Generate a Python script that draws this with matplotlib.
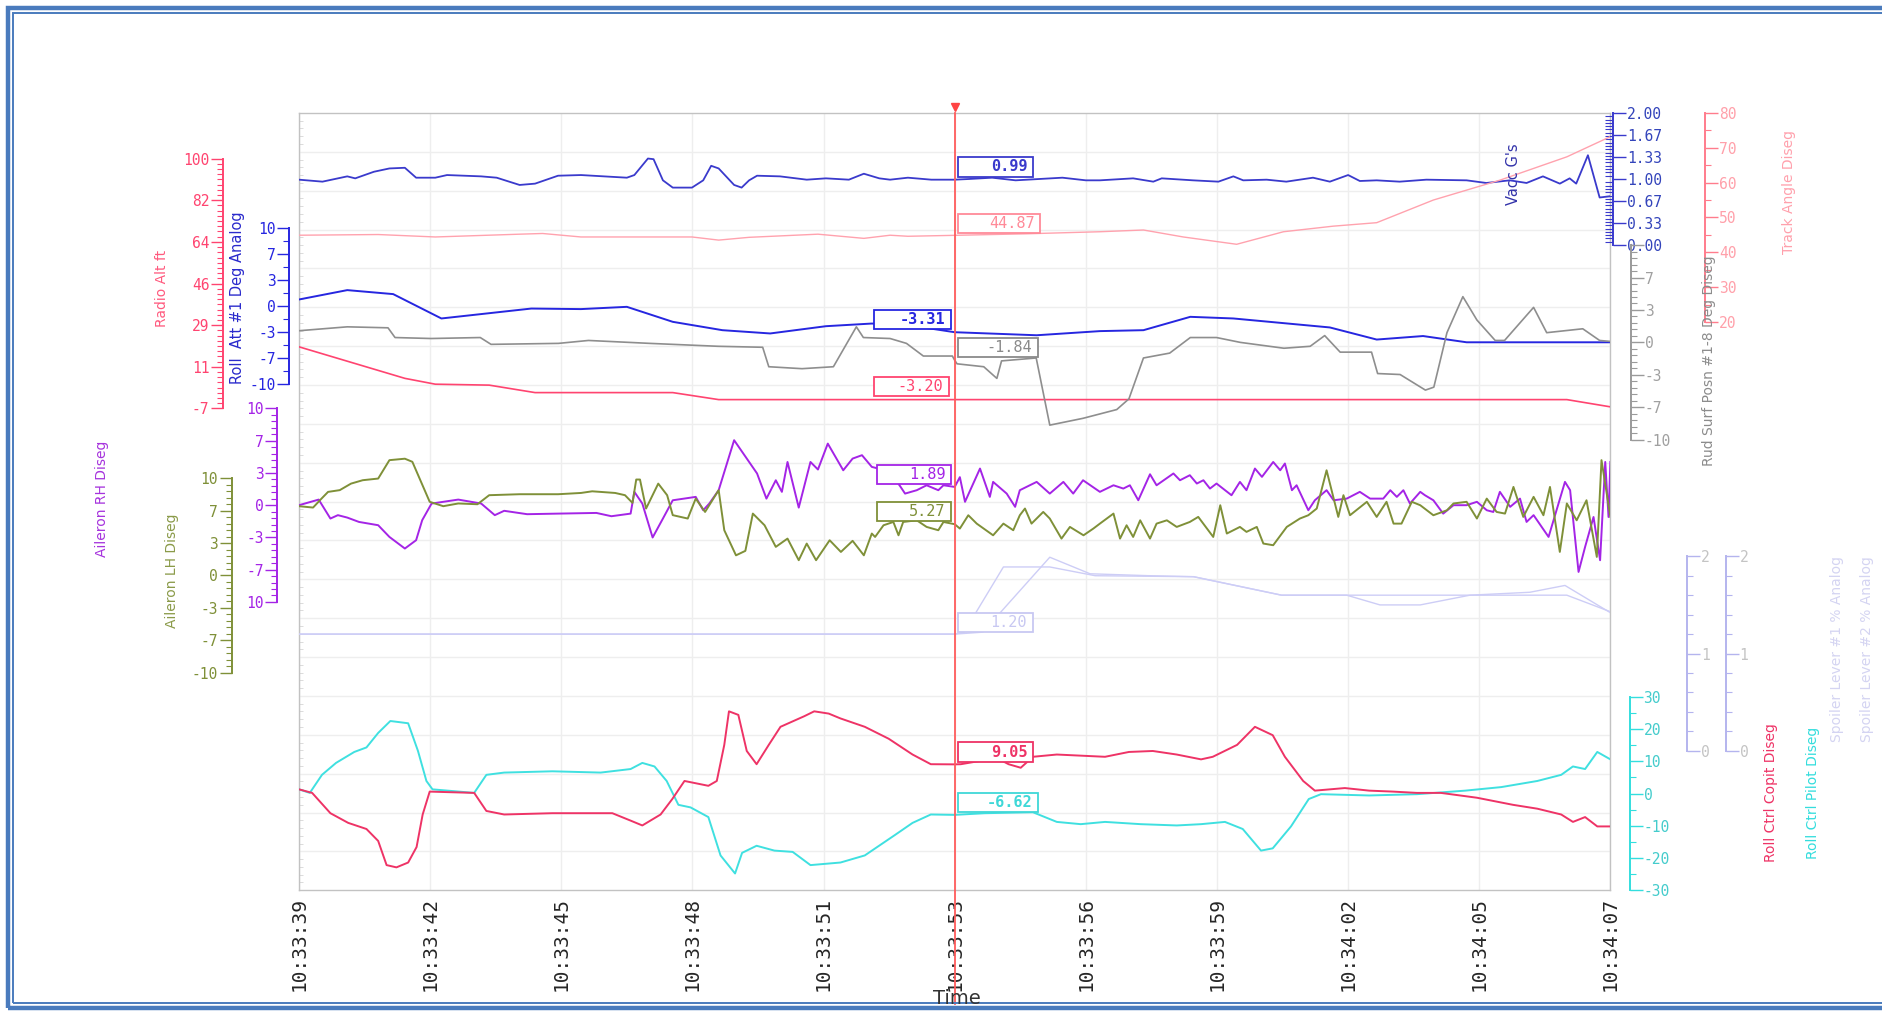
import numpy as np
import matplotlib
matplotlib.use("Agg")
import matplotlib.pyplot as plt
from matplotlib.patches import Rectangle
from matplotlib.ticker import FixedLocator, FixedFormatter

# time axis: seconds after 10:33:39
TIME_LABELS = ["10:33:39", "10:33:42", "10:33:45", "10:33:48", "10:33:51", "10:33:53",
               "10:33:56", "10:33:59", "10:34:02", "10:34:05", "10:34:07"]
SPAN = 28.0
CURSOR_T = 14.0

# (seconds, value) samples per channel
VACC_G = [(0, 0.99), (0.5, 0.96), (1.03, 1.04), (1.2, 1.01), (1.6, 1.11), (1.93, 1.16), (2.26, 1.17),
          (2.5, 1.02), (2.91, 1.02), (3.16, 1.06), (3.89, 1.04), (4.22, 1.02), (4.71, 0.91), (5.04, 0.93),
          (5.53, 1.05), (6.02, 1.06), (7.0, 1.02), (7.16, 1.06), (7.45, 1.31), (7.57, 1.30), (7.77, 0.98),
          (7.98, 0.87), (8.39, 0.87), (8.63, 0.98), (8.8, 1.20), (8.96, 1.16), (9.29, 0.91), (9.45, 0.87),
          (9.61, 0.98), (9.78, 1.05), (10.27, 1.04), (10.84, 0.99), (11.25, 1.01), (11.74, 0.99),
          (12.06, 1.08), (12.39, 1.01), (12.62, 0.99), (13.0, 1.02), (13.5, 0.99), (14.0, 0.99),
          (14.3, 1.0), (14.8, 1.02), (15.3, 0.98), (15.8, 1.0), (16.3, 1.02), (16.8, 0.98), (17.1, 0.98),
          (17.81, 1.01), (18.24, 0.96), (18.42, 1.01), (19.09, 0.98), (19.63, 0.96), (19.95, 1.04),
          (20.16, 0.98), (20.66, 0.99), (21.08, 0.96), (21.65, 1.02), (22.01, 0.96), (22.4, 1.06),
          (22.65, 0.97), (23.01, 0.98), (23.5, 0.96), (24.07, 0.99), (24.93, 0.98), (25.35, 0.94),
          (25.85, 0.98), (26.21, 0.94), (26.56, 1.04), (26.92, 0.93), (27.13, 1.01), (27.27, 0.93),
          (27.52, 1.36), (27.77, 0.72), (28.0, 0.74)]

TRACK_ANGLE = [(0, 44.9), (1.69, 45.1), (2.91, 44.4), (4.71, 45.2), (5.2, 45.4), (6.02, 44.4), (8.39, 44.4),
               (8.96, 43.5), (9.61, 44.3), (11.08, 45.2), (12.06, 44.0), (12.62, 44.9), (13.0, 44.6),
               (14.0, 44.87), (15.5, 45.3), (17.1, 45.9), (18.03, 46.4), (18.88, 44.4), (20.02, 42.3),
               (21.02, 45.9), (22.08, 47.5), (23.01, 48.5), (24.22, 55.0), (25.64, 60.7), (27.07, 67.4),
               (28.0, 73.2)]

ROLL_ATT = [(0, 0.88), (1.03, 2.08), (2.01, 1.57), (3.04, -1.55), (4.96, -0.28), (6.02, -0.35), (7.0, -0.06),
            (7.98, -1.98), (9.04, -3.05), (10.06, -3.47), (11.25, -2.54), (12.23, -2.2), (13.0, -2.4),
            (14.0, -3.31), (15.75, -3.7), (17.1, -3.17), (18.03, -3.05), (19.03, -1.34), (19.95, -1.55),
            (22.01, -2.7), (23.01, -4.25), (24.0, -3.8), (24.93, -4.6), (28.0, -4.6)]

RUD_SURF = [(0, 1.2), (1.03, 1.6), (1.9, 1.5), (2.05, 0.5), (2.82, 0.4), (3.87, 0.5), (4.1, -0.2), (5.54, -0.1),
            (6.18, 0.2), (7.49, -0.1), (8.95, -0.4), (9.9, -0.5), (10.03, -2.5), (10.74, -2.7), (11.41, -2.5),
            (11.9, 1.6), (12.05, 0.5), (12.62, 0.4), (12.97, -0.1), (13.33, -1.4), (13.95, -1.4),
            (14.0, -1.84), (14.05, -2.2), (14.62, -2.5), (14.9, -3.7), (15.0, -1.9), (15.74, -1.6),
            (16.03, -8.5), (16.74, -7.8), (17.46, -6.9), (17.72, -5.8), (18.03, -1.6), (18.59, -1.1),
            (19.03, 0.5), (19.59, 0.5), (20.1, 0.0), (21.03, -0.6), (21.59, -0.4), (21.9, 0.7),
            (22.23, -1.0), (22.9, -1.0), (23.03, -3.2), (23.51, -3.3), (24.05, -4.9), (24.23, -4.6),
            (24.51, 1.0), (24.85, 4.7), (25.15, 2.3), (25.54, 0.2), (25.74, 0.2), (26.36, 3.6),
            (26.64, 1.0), (27.41, 1.4), (27.77, 0.2), (28.0, 0.1)]

RADIO_ALT = [(0, 19.4), (2.26, 5.9), (2.91, 3.4), (4.06, 3.0), (5.04, -0.2), (7.98, -0.2), (8.96, -3.2),
             (27.07, -3.2), (28.0, -6.3)]

AILERON_RH = [(0, 0.0), (0.42, 0.58), (0.67, -1.38), (0.83, -1.03), (1.03, -1.28), (1.28, -1.73), (1.69, -2.07),
              (1.93, -3.28), (2.26, -4.48), (2.5, -3.62), (2.63, -1.55), (2.83, 0.17), (3.4, 0.58),
              (3.89, 0.17), (4.18, -1.03), (4.38, -0.58), (4.87, -0.93), (5.53, -0.87), (6.35, -0.8),
              (6.67, -1.14), (7.08, -0.87), (7.16, 1.38), (7.33, 0.17), (7.55, -3.34), (7.77, -1.38),
              (7.98, 0.51), (8.22, 0.68), (8.47, 0.86), (8.63, -0.52), (8.76, 0.17), (8.96, 1.55),
              (9.29, 6.72), (9.78, 3.28), (9.98, 0.68), (10.18, 2.58), (10.31, 1.38), (10.43, 4.47),
              (10.67, -0.25), (10.92, 4.47), (11.08, 3.69), (11.29, 6.37), (11.62, 3.61), (11.82, 4.82),
              (12.02, 5.17), (12.23, 3.96), (12.6, 3.5), (12.83, 2.0), (12.94, 1.2), (13.19, 1.55),
              (13.4, 2.06), (13.65, 1.55), (13.76, 2.06), (14.0, 1.89), (14.11, 2.9), (14.22, 0.35),
              (14.54, 3.79), (14.75, 0.86), (14.82, 2.41), (15.11, 1.2), (15.29, -0.17), (15.39, 1.55),
              (15.75, 2.41), (16.03, 1.2), (16.32, 2.41), (16.53, 1.2), (16.74, 2.58), (17.1, 1.38),
              (17.39, 2.06), (17.6, 1.72), (17.74, 2.06), (17.92, 0.51), (18.17, 3.2), (18.31, 2.06),
              (18.67, 3.28), (18.81, 2.58), (19.02, 3.1), (19.17, 2.24), (19.31, 2.58), (19.45, 1.72),
              (19.59, 2.24), (19.91, 1.03), (20.09, 2.41), (20.23, 1.55), (20.41, 3.79), (20.56, 2.93),
              (20.8, 4.47), (20.95, 3.61), (21.05, 4.31), (21.2, 1.55), (21.3, 2.06), (21.55, -0.52),
              (21.69, 0.51), (21.94, 1.55), (22.09, 0.51), (22.37, 0.68), (22.65, 1.38), (22.87, 0.68),
              (23.15, 0.68), (23.3, 1.55), (23.44, 0.86), (23.58, 1.55), (23.72, 0.17), (23.94, 1.38),
              (24.04, 1.03), (24.22, 0.51), (24.43, -0.87), (24.65, 0.0), (24.93, 0.0), (25.15, 0.35),
              (25.36, -0.52), (25.5, -0.7), (25.64, 1.38), (25.86, -0.17), (26.07, 0.68), (26.21, -1.73),
              (26.36, -1.03), (26.68, -3.28), (27.03, 2.41), (27.14, 1.55), (27.32, -6.9), (27.46, -4.31),
              (27.64, -1.22), (27.78, -5.69), (27.89, 4.47), (27.96, -1.22), (28.0, 4.47)]

AILERON_LH = [(0, 7.12), (0.3, 6.98), (0.46, 7.8), (0.62, 8.59), (0.87, 8.77), (1.11, 9.44), (1.36, 9.79),
              (1.69, 9.96), (1.93, 11.85), (2.26, 12.0), (2.42, 11.68), (2.59, 9.79), (2.79, 7.57),
              (3.08, 7.12), (3.4, 7.4), (3.81, 7.32), (4.06, 8.25), (4.71, 8.35), (5.53, 8.35), (6.02, 8.48),
              (6.26, 8.65), (6.75, 8.48), (6.96, 8.25), (7.12, 7.46), (7.2, 9.86), (7.28, 9.86), (7.41, 6.88),
              (7.67, 9.44), (7.86, 8.25), (7.98, 6.2), (8.3, 5.85), (8.47, 7.9), (8.67, 6.53), (8.96, 8.77),
              (9.08, 4.65), (9.33, 2.07), (9.53, 2.53), (9.69, 6.36), (9.94, 5.16), (10.18, 2.94),
              (10.43, 3.79), (10.67, 1.57), (10.84, 3.28), (11.04, 1.57), (11.33, 3.62), (11.57, 2.42),
              (11.82, 3.56), (12.06, 2.07), (12.23, 4.31), (12.3, 3.96), (12.48, 5.16), (12.69, 5.5),
              (12.8, 4.13), (12.9, 5.5), (13.19, 5.67), (13.4, 4.99), (13.65, 4.65), (13.76, 5.5),
              (14.0, 5.27), (14.11, 4.82), (14.29, 6.19), (14.47, 5.33), (14.82, 4.13), (15.04, 5.33),
              (15.25, 4.65), (15.39, 6.19), (15.5, 6.88), (15.64, 5.33), (15.89, 6.53), (16.03, 5.85),
              (16.28, 3.79), (16.46, 4.99), (16.75, 4.13), (16.96, 4.82), (17.1, 5.33), (17.39, 6.36),
              (17.53, 3.79), (17.67, 5.16), (17.81, 3.96), (17.96, 5.67), (18.17, 3.79), (18.31, 5.33),
              (18.53, 5.67), (18.74, 4.99), (19.02, 5.5), (19.2, 6.02), (19.52, 3.96), (19.67, 7.22),
              (19.81, 4.31), (20.09, 4.99), (20.23, 4.48), (20.45, 4.99), (20.59, 3.28), (20.8, 3.11),
              (21.09, 4.99), (21.37, 5.85), (21.55, 6.19), (21.73, 6.88), (21.94, 10.81), (22.19, 6.02),
              (22.3, 8.25), (22.44, 6.19), (22.8, 7.57), (23.01, 6.02), (23.22, 7.57), (23.37, 5.33),
              (23.54, 5.33), (23.76, 7.57), (23.94, 7.22), (24.22, 6.19), (24.51, 6.7), (24.65, 7.4),
              (24.93, 7.57), (25.15, 5.85), (25.36, 7.9), (25.57, 6.53), (25.75, 6.36), (25.93, 9.1),
              (26.14, 6.02), (26.36, 8.08), (26.57, 6.19), (26.71, 9.1), (26.92, 2.42), (27.07, 7.4),
              (27.28, 5.67), (27.49, 7.73), (27.71, 1.91), (27.81, 11.85), (28.0, 6.02)]

SPOILER_1 = [(0, 1.2), (14.0, 1.2), (14.2, 1.22), (15.04, 1.89), (16.03, 1.89), (17.0, 1.80), (19.1, 1.79),
             (20.98, 1.60), (22.37, 1.60), (23.08, 1.50), (23.94, 1.50), (25.0, 1.60), (27.07, 1.60),
             (28.0, 1.43)]
SPOILER_2 = [(0, 1.2), (14.0, 1.2), (14.6, 1.22), (16.03, 1.99), (16.89, 1.82), (18.17, 1.80), (19.1, 1.79),
             (20.98, 1.60), (23.01, 1.60), (25.0, 1.60), (26.28, 1.63), (27.03, 1.70), (28.0, 1.42)]

ROLL_CTRL_COPILOT = [(0, 1.3), (0.28, 0.2), (0.67, -6.1), (1.05, -9.1), (1.44, -11.0), (1.69, -14.7),
                     (1.87, -22.2), (2.08, -22.9), (2.33, -21.4), (2.51, -16.6), (2.64, -6.5), (2.79, 0.6),
                     (3.74, 0.2), (4.0, -5.4), (4.38, -6.5), (5.41, -6.1), (6.69, -6.1), (7.08, -8.4),
                     (7.33, -9.9), (7.72, -6.5), (7.97, -1.7), (8.23, 3.9), (8.74, 2.4), (8.92, 3.9),
                     (9.08, 15.1), (9.18, 25.5), (9.38, 24.4), (9.56, 13.2), (9.77, 9.1), (10.03, 15.1),
                     (10.28, 20.7), (10.79, 24.0), (11.0, 25.5), (11.31, 24.8), (11.56, 23.3), (12.08, 20.7),
                     (12.59, 17.0), (13.1, 12.1), (13.49, 9.1), (14.0, 9.05), (14.13, 9.1), (14.9, 11.0),
                     (15.15, 9.1), (15.41, 8.0), (15.67, 11.4), (16.18, 12.1), (17.21, 11.4), (17.72, 12.9),
                     (18.23, 13.2), (18.74, 12.1), (19.26, 10.6), (19.51, 11.4), (20.03, 15.1), (20.41, 20.7),
                     (20.79, 18.1), (21.05, 11.4), (21.44, 3.9), (21.69, 0.9), (22.33, 1.7), (22.85, 0.9),
                     (23.36, 0.6), (23.87, 0.2), (24.38, 0.2), (25.15, -1.3), (25.92, -3.5), (26.44, -4.7),
                     (26.95, -6.5), (27.2, -8.8), (27.46, -7.3), (27.72, -10.2), (28.0, -10.2)]

ROLL_CTRL_PILOT = [(0, 1.3), (0.23, 0.2), (0.49, 5.8), (0.79, 9.5), (1.18, 12.9), (1.44, 14.3), (1.69, 18.8),
                   (1.95, 22.5), (2.33, 21.8), (2.54, 13.2), (2.72, 3.9), (2.85, 1.3), (3.74, 0.2), (4.0, 5.8),
                   (4.38, 6.5), (5.41, 6.9), (6.44, 6.5), (7.08, 7.6), (7.33, 9.5), (7.59, 8.4), (7.85, 3.9),
                   (8.1, -3.5), (8.36, -4.3), (8.74, -7.3), (9.0, -19.2), (9.31, -24.8), (9.46, -18.4),
                   (9.77, -16.2), (10.15, -17.7), (10.54, -18.1), (10.92, -22.2), (11.56, -21.4),
                   (12.08, -19.2), (12.72, -12.9), (13.1, -9.1), (13.49, -6.5), (14.0, -6.62), (14.64, -6.1),
                   (15.67, -5.8), (16.18, -8.8), (16.69, -9.5), (17.21, -8.8), (17.97, -9.5), (18.74, -9.9),
                   (19.26, -9.5), (19.77, -8.8), (20.15, -11.0), (20.54, -17.7), (20.79, -17.0),
                   (21.18, -10.2), (21.56, -1.7), (21.82, -0.2), (22.85, -0.6), (23.87, -0.2), (24.9, 0.9),
                   (25.67, 2.0), (26.44, 3.9), (26.95, 5.8), (27.2, 8.4), (27.46, 7.6), (27.72, 12.9),
                   (28.0, 10.6)]

# layout grid (figure is 1568 x 844 units, plot box inside it)
W, H = 1568.0, 844.0
PL, PR, PT, PB = 249, 1341, 94, 741


def gx(px):
    return (px - PL) / (PR - PL)


def gy(py):
    return (PB - py) / (PB - PT)


def tx(px):
    return gx(px) * SPAN


fig = plt.figure(figsize=(18.83, 10.14), dpi=100)
fig.patch.set_facecolor("white")
RECT = [PL / W, 1 - PB / H, (PR - PL) / W, (PB - PT) / H]

ax = fig.add_axes(RECT)
ax.set_xlim(0, SPAN)
ax.set_ylim(0, 1)
ax.set_xticks(np.linspace(0, SPAN, len(TIME_LABELS)))
ax.set_xticklabels(TIME_LABELS, rotation=90, family="DejaVu Sans Mono", fontsize=14, color="#262626")
ax.tick_params(axis="x", length=0, pad=5)
ax.set_yticks(np.arange(0.05, 1.0, 0.05))
ax.set_yticklabels([])
ax.tick_params(axis="y", which="major", length=0)
ax.yaxis.set_minor_locator(FixedLocator(np.arange(0.01, 1.0, 0.01)))
ax.tick_params(axis="y", which="minor", direction="in", length=3, color="#d6d6d6")
ax.grid(True, color="#eeeeee", lw=1.0)
for sp in ax.spines.values():
    sp.set_color("#c2c2c2")
    sp.set_linewidth(1.0)


def scale(lo, hi, top, bot, xpx, side, color, labels, n_minor, text_color=None,
          minor_dir="out", minor_len=4):
    a = fig.add_axes(RECT, sharex=ax)
    a.patch.set_visible(False)
    f_hi, f_lo = gy(top), gy(bot)
    k = (hi - lo) / (f_hi - f_lo)
    a.set_ylim(lo - f_lo * k, lo + (1 - f_lo) * k)
    for name, s in a.spines.items():
        s.set_visible(name == side)
    s = a.spines[side]
    s.set_position(("axes", gx(xpx)))
    s.set_bounds(lo, hi)
    s.set_color(color)
    s.set_linewidth(1.4)
    a.xaxis.set_visible(False)
    a.yaxis.set_ticks_position(side)
    a.yaxis.set_major_locator(FixedLocator(np.linspace(lo, hi, len(labels))))
    a.yaxis.set_major_formatter(FixedFormatter(labels))
    a.yaxis.set_minor_locator(FixedLocator(np.linspace(lo, hi, n_minor)))
    a.tick_params(axis="y", which="major", length=9, width=1.0, color=color,
                  labelcolor=text_color or color, labelsize=10.5, pad=1,
                  labelfontfamily="DejaVu Sans Mono")
    a.tick_params(axis="y", which="minor", length=minor_len, width=0.8, color=color,
                  direction=minor_dir)
    return a


def trace(a, data, color, lw=1.3, alpha=1.0):
    t, v = np.array(data).T
    a.plot(t, v, color=color, lw=lw, alpha=alpha, solid_joinstyle="round")
    return float(np.interp(CURSOR_T, t, v))


C_VACC = "#3a3acc"
C_TRACK = "#ffa2ae"
C_ROLL = "#2626e0"
C_RUD = "#8e8e8e"
C_RALT = "#ff4470"
C_ARH = "#a424e6"
C_ALH = "#7f9038"
C_SPL = "#cdcdf6"
C_COP = "#ee3366"
C_PIL = "#3fe0e0"

# left-hand scales
a_ralt = scale(-7, 100, 132, 340, 186, "left", C_RALT,
               ["-7", "11", "29", "46", "64", "82", "100"], 49)
a_roll = scale(-10, 10, 190, 320, 241, "left", C_ROLL,
               ["-10", "-7", "-3", "0", "3", "7", "10"], 13)
a_arh = scale(-10, 10, 340, 501, 231, "left", C_ARH,
              ["10", "-7", "-3", "0", "3", "7", "10"], 31)
a_alh = scale(-10, 10, 398, 560, 193, "left", C_ALH,
              ["-10", "-7", "-3", "0", "3", "7", "10"], 31)

# right-hand scales
a_vacc = scale(0, 2, 94, 204, 1343, "right", C_VACC,
               ["0.00", "0.33", "0.67", "1.00", "1.33", "1.67", "2.00"], 41,
               text_color="#3344bb", minor_dir="in", minor_len=6)
a_rud = scale(-10, 10, 204, 366, 1358, "right", "#9a9a9a",
              ["-10", "-7", "-3", "0", "3", "7", ""], 31, text_color="#a0a0a0")
a_track = scale(20, 80, 94, 268, 1420, "right", "#ff7c8c",
                ["20", "30", "40", "50", "60", "70", "80"], 13, text_color="#ffa0aa")
a_rctl = scale(-30, 30, 580, 741, 1357, "right", "#33dede",
               ["-30", "-20", "-10", "0", "10", "20", "30"], 13, text_color="#44cccc")
a_spl1 = scale(0, 2, 463, 625, 1405, "right", "#b4b4ee",
               ["0", "1", "2"], 11, text_color="#c4c4c4")
a_spl2 = scale(0, 2, 463, 625, 1437, "right", "#b4b4ee",
               ["0", "1", "2"], 11, text_color="#c4c4c4")

v_spl2 = trace(a_spl2, SPOILER_2, C_SPL, lw=1.0)
v_spl1 = trace(a_spl1, SPOILER_1, C_SPL, lw=1.0)
v_track = trace(a_track, TRACK_ANGLE, C_TRACK, lw=1.0)
v_ralt = trace(a_ralt, RADIO_ALT, C_RALT, lw=1.2)
v_rud = trace(a_rud, RUD_SURF, C_RUD, lw=1.2)
v_roll = trace(a_roll, ROLL_ATT, C_ROLL, lw=1.4)
v_vacc = trace(a_vacc, VACC_G, C_VACC, lw=1.3)
v_alh = trace(a_alh, AILERON_LH, C_ALH, lw=1.4)
v_arh = trace(a_arh, AILERON_RH, C_ARH, lw=1.4)
v_pil = trace(a_rctl, ROLL_CTRL_PILOT, C_PIL, lw=1.4)
v_cop = trace(a_rctl, ROLL_CTRL_COPILOT, C_COP, lw=1.4)

# overlay: cursor, value read-outs
ov = fig.add_axes(RECT, sharex=ax)
ov.set_ylim(0, 1)
ov.axis("off")
ov.plot([CURSOR_T, CURSOR_T], [gy(836), 1.0], color="#ff5c5c", lw=1.3, clip_on=False, zorder=4)
ov.plot([CURSOR_T], [gy(89)], marker="v", ms=6, color="#ff4444", clip_on=False, zorder=4)


def readout(val, left, right, cy, color, bold=True):
    hh = 8.0 / (PB - PT)
    x0, x1 = tx(left), tx(right)
    ov.add_patch(Rectangle((x0, gy(cy) - hh), x1 - x0, 2 * hh, facecolor="white",
                           edgecolor=color, lw=1.3, zorder=6, clip_on=False))
    ov.text(x1 - 0.12, gy(cy), f"{val:.2f}", ha="right", va="center", color=color,
            family="DejaVu Sans Mono", fontsize=11, fontweight="bold" if bold else "normal",
            zorder=7, clip_on=False)


readout(v_vacc, 798, 860, 139, C_VACC)
readout(v_track, 798, 866, 186, "#ff8a98", bold=False)
readout(v_roll, 728, 792, 266, C_ROLL)
readout(v_rud, 798, 864, 289, "#8a8a8a", bold=False)
readout(v_ralt, 728, 790, 322, C_RALT, bold=False)
readout(v_arh, 730, 792, 395, C_ARH, bold=False)
readout(v_alh, 730, 792, 426, C_ALH, bold=False)
readout(v_spl1, 798, 860, 518, "#c8c8f2", bold=False)
readout(v_cop, 798, 860, 626, C_COP)
readout(v_pil, 798, 864, 668, "#3fd8d8")


# channel titles
def title(px, py, text, color, size=10):
    fig.text(px / W, 1 - py / H, text, rotation=90, ha="center", va="center",
             color=color, fontsize=size, family="DejaVu Sans")


title(135, 240, "Radio Alt ft", "#ff5a7e")
title(198, 248, "Roll  Att #1 Deg Analog", "#2a2acc", 10.5)
title(85, 415, "Aileron RH Diseg", "#a633dd")
title(143, 475, "Aileron LH Diseg", "#8a9a48")
title(1260, 145, "Vacc G's", "#3333aa", 10.5)
title(1490, 160, "Track Angle Diseg", "#ffa0ac")
title(1423, 300, "Rud Surf Posn #1-8 Deg Diseg", "#8c8c8c")
title(1475, 660, "Roll Ctrl Copit Diseg", "#ee3366")
title(1510, 660, "Roll Ctrl Pilot Diseg", "#33dddd")
title(1530, 540, "Spoiler Lever #1 % Analog", "#d4d4f2")
title(1555, 540, "Spoiler Lever #2 % Analog", "#d4d4f2")

fig.text(797 / W, 1 - 831 / H, "Time", ha="center", va="center", fontsize=14, color="#333333")

# double blue frame (open on the right)
for inset, lw in ((7, 3.2), (11, 1.4)):
    fig.add_artist(Rectangle((inset / W, 1 - (844 - inset + 2) / H), 1.05, (844 - 2 * inset + 2) / H,
                             transform=fig.transFigure, fill=False, edgecolor="#4a7bbd", lw=lw))

fig.savefig("out.png", dpi=100, facecolor="white")
